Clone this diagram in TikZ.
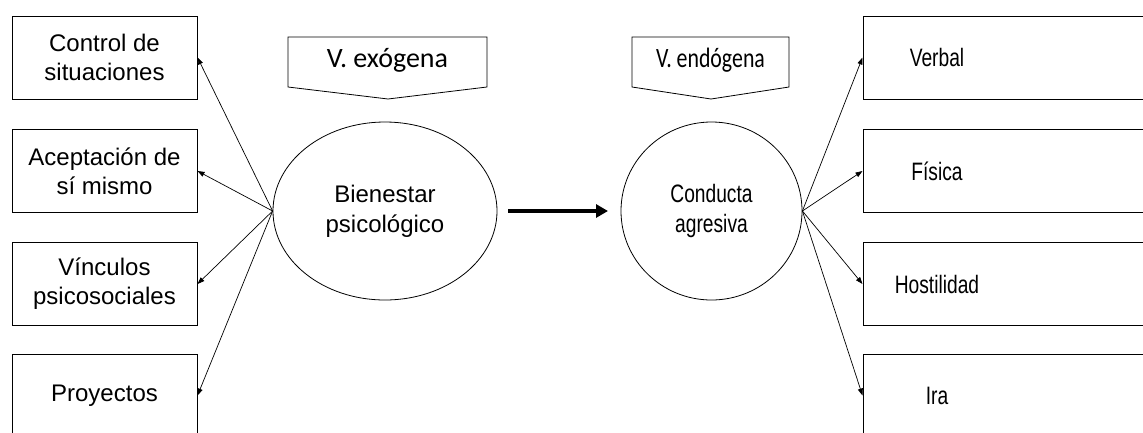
\documentclass[tikz,border=0pt]{standalone}
\usepackage{fontspec}
\setmainfont{Liberation Sans}
\newfontfamily\calib{Carlito}
\newcommand\nar[1]{\scalebox{0.8}[1.05]{#1}}
\usetikzlibrary{shapes.geometric,arrows.meta}
\tikzset{
  box/.style={draw, line width=1pt, minimum height=83pt, inner sep=0pt, align=center,
              font=\fontsize{24}{29}\selectfont},
  lbox/.style={box, minimum width=185pt},
  rbox/.style={box, minimum width=300pt},
  latent/.style={draw, ellipse, line width=0.8pt, inner sep=0pt, align=center,
              font=\fontsize{24}{30}\selectfont},
  link/.style={line width=0.7pt, -{Triangle[length=7pt,width=5pt]}},
  callout/.style={draw, line width=0.8pt},
}
\begin{document}
\begin{tikzpicture}[x=1pt,y=-1pt]
\useasboundingbox (0,0) rectangle (1143,432);
\clip (0,0) rectangle (1143,432);
% left boxes
\node[lbox] (l1) at (104.5,57.5) {Control de\\situaciones};
\node[lbox] (l2) at (104.5,171) {Aceptación de\\sí mismo};
\node[lbox] (l3) at (104.5,284) {Vínculos\\psicosociales};
\node[lbox] (l4) at (104.5,395.5) {Proyectos};
% right boxes
\node[rbox] (r1) at (1013,57.5) {\hspace*{-152pt}\nar{Verbal}};
\node[rbox] (r2) at (1013,171) {\hspace*{-152pt}\nar{Física}};
\node[rbox] (r3) at (1013,284) {\hspace*{-152pt}\nar{Hostilidad}};
\node[rbox] (r4) at (1013,395.5) {\hspace*{-152pt}\nar{Ira}};
% latent variables
\node[latent, minimum width=224pt, minimum height=178pt] (bp) at (385,211) {Bienestar\\psicológico};
\node[latent, minimum width=181pt, minimum height=178pt] (ca) at (711.5,211) {\nar{Conducta}\\\nar{agresiva}};
% callouts
\draw[callout] (288,37) -- (487,37) -- (487,87) -- (388,99) -- (288,87) -- cycle;
\node[font=\calib\fontsize{28}{32}\selectfont] (vex) at (387.5,60) {V. exógena};
\draw[callout] (632,37) -- (789,37) -- (789,87) -- (711,99) -- (632,87) -- cycle;
\node[font=\calib\fontsize{28}{32}\selectfont] (ven) at (710.5,60) {\scalebox{0.78}[1]{V. endógena}};
% connectors
\draw[link] (bp.west) -- (l1.east);
\draw[link] (bp.west) -- (l2.east);
\draw[link] (bp.west) -- (l3.east);
\draw[link] (bp.west) -- (l4.east);
\draw[link] (ca.east) -- (r1.west);
\draw[link] (ca.east) -- (r2.west);
\draw[link] (ca.east) -- (r3.west);
\draw[link] (ca.east) -- (r4.west);
\coordinate (ts) at (508,211);
\coordinate (te) at (608,211);
\draw[line width=4pt, -{Triangle[length=12pt,width=13pt]}] (ts) -- (te);
\end{tikzpicture}
\end{document}
